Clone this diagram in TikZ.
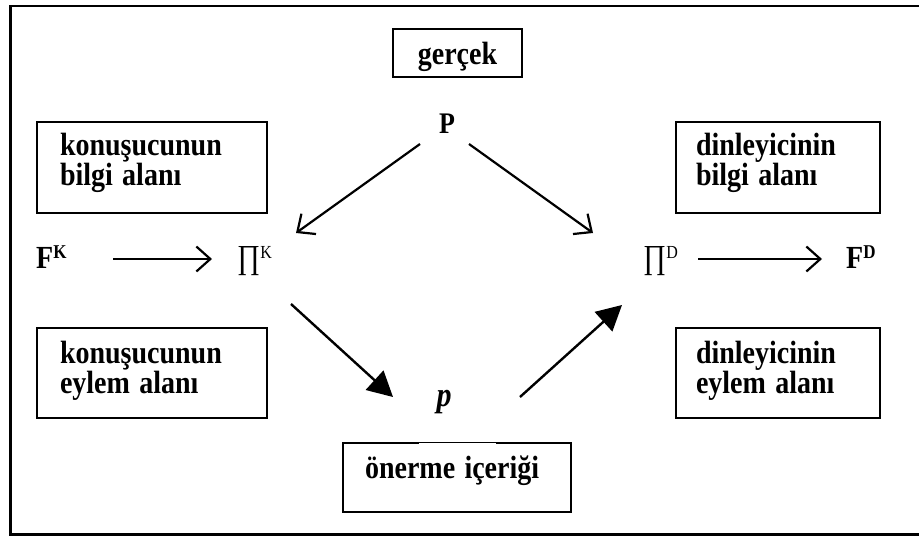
\documentclass[tikz,border=0pt]{standalone}
\usepackage{fontspec}
\usepackage{graphicx}
\setmainfont{Liberation Serif}
\usetikzlibrary{arrows.meta,calc}

% font size with a fixed 30pt line pitch
\newcommand\fsz[1]{\fontsize{#1}{30}\selectfont}
% slightly tall lettering
\newcommand\tall[1]{\scalebox{1}[1.15]{#1}}

\begin{document}
\begin{tikzpicture}[x=1pt,y=-1pt,
  frame/.style={line width=2.2pt},
  box/.style={draw, line width=2.2pt, inner sep=0pt, align=left,
              font=\bfseries\fsz{28}},
  lbl/.style={inner sep=0pt},
  barb/.style={line width=2.2pt,
               -{Straight Barb[length=14pt,width=25pt,line width=2.2pt]}},
  heavy/.style={line width=2.4pt, -{Triangle[length=25pt,width=26pt]}}
]
\useasboundingbox (0,0) rectangle (919,536);
\draw[frame] (10.5,6) rectangle (930,534.5);

% boxes
\node[box, minimum width=129, minimum height=48, align=center] (real) at (457.5,53)
  {\tall{gerçek}\rule[-8pt]{0pt}{38pt}};
\node[box, minimum width=230, minimum height=91, text width=184] (kb) at (152,167.5)
  {\tall{konuşucunun}\rule{0pt}{23pt}\\\tall{bilgi alanı}\rule[-18pt]{0pt}{18pt}};
\node[box, minimum width=230, minimum height=90, text width=184] (ke) at (152,373)
  {\tall{konuşucunun}\rule{0pt}{23pt}\\\tall{eylem alanı}\rule[-13pt]{0pt}{13pt}};
\node[box, minimum width=204, minimum height=91, text width=164] (db) at (778,167.5)
  {\tall{dinleyicinin}\rule{0pt}{23pt}\\\tall{bilgi alanı}\rule[-18pt]{0pt}{18pt}};
\node[box, minimum width=204, minimum height=90, text width=164] (de) at (778,373)
  {\tall{dinleyicinin}\rule{0pt}{23pt}\\\tall{eylem alanı}\rule[-13pt]{0pt}{13pt}};
\node[box, minimum width=228, minimum height=69, text width=184] (oi) at (457,477.5)
  {\tall{önerme içeriği}\rule[-22pt]{0pt}{45pt}};
\draw[white, line width=1pt] ($(oi.north)+(-38,2)$) -- ($(oi.north)+(39,2)$);

% symbols
\node[lbl, anchor=base, font=\bfseries\fsz{26}] (P) at (447,133) {\tall{P}};
\node[lbl, anchor=base west, font=\fsz{28}] (PiK) at (237,268)
  {\scalebox{1}[1.2]{∏}\raisebox{10pt}{\fsz{16}\tall{K}}};
\node[lbl, anchor=base west, font=\fsz{28}] (PiD) at (643,268)
  {\scalebox{1}[1.2]{∏}\raisebox{10pt}{\fsz{16}\tall{D}}};
\node[lbl, anchor=base west, font=\bfseries\fsz{28}] (FK) at (36,268)
  {\tall{F}\raisebox{10pt}{\fsz{17}\tall{K}}};
\node[lbl, anchor=base west, font=\bfseries\fsz{28}] (FD) at (846,268)
  {\tall{F}\raisebox{10pt}{\fsz{17}\tall{D}}};
\node[lbl, anchor=base, font=\bfseries\itshape\fsz{30}] (p) at (444,406) {\tall{p}};

% connectors
\draw[barb] ($(P.base)+(-27,11)$) -- ($(PiK.base west)+(59,-35)$);
\draw[barb] ($(P.base)+(22,11)$) -- ($(PiD.base west)+(-50,-35)$);
\draw[barb] ($(FK.base west)+(77,-9)$) -- ($(PiK.base west)+(-25,-9)$);
\draw[barb] ($(PiD.base west)+(55,-9)$) -- ($(FD.base west)+(-24,-9)$);
\draw[heavy] ($(PiK.base west)+(54,36)$) -- ($(p.base)+(-51,-9)$);
\draw[heavy] ($(p.base)+(76,-9)$) -- ($(PiD.base west)+(-21,37)$);
\end{tikzpicture}
\end{document}
